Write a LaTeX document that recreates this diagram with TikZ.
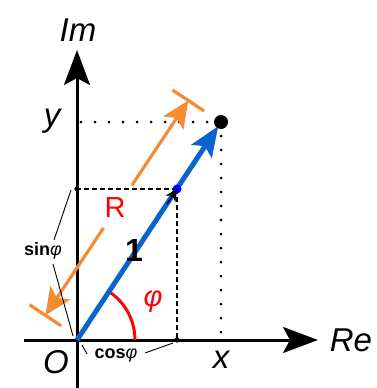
\documentclass[tikz,border=0pt]{standalone}
\usepackage{fontspec}
\setmainfont{Liberation Sans}
\usetikzlibrary{arrows.meta,calc}
\definecolor{vblue}{RGB}{10,100,205}
\definecolor{vorange}{RGB}{245,140,50}
\begin{document}
\begin{tikzpicture}[x=1pt,y=-1pt,
  axis/.style={line width=3pt,-{Stealth[length=35pt,width=26pt,inset=7pt]}},
  bigtxt/.style={font=\fontsize{33}{36}\selectfont\itshape,inner sep=0pt},
  dotline/.style={line width=3pt,line cap=round,dash pattern=on 0pt off 14pt},
  dashline/.style={line width=1.2pt,dash pattern=on 5pt off 3pt},
  thinline/.style={line width=0.9pt},
  smalltxt/.style={font=\fontsize{18}{20}\selectfont,inner sep=0pt},
  ornline/.style={vorange,line width=3.2pt,-{Stealth[length=27pt,width=24pt,inset=6pt]}},
]
\useasboundingbox (0,0) rectangle (376,388);
% key points
\coordinate (o) at (77,340);
\coordinate (p) at (221,122);
\coordinate (u) at (177,189);
\coordinate (ya) at (77,189);
\coordinate (xa) at (177,340);
% axes
\draw[axis] (24,340) -- (318,340) coordinate (reend);
\draw[axis] (77,388) -- (77,50) coordinate (imend);
\node[bigtxt] (im) at (78,30) {Im};
\node[bigtxt] (re) at (351,340) {Re};
\node[bigtxt] (ol) at (56,362) {O};
\node[bigtxt] (xl) at (221,360) {x};
\node[bigtxt] (yl) at (52,121) {y};
% dotted projection lines
\draw[dotline] (p) -- (ya |- p);
\draw[dotline] (p) -- (p |- 0,333);
% dashed projection lines
\draw[dashline] (u) -- (ya);
\draw[dashline] (u) -- (xa);
\fill (ya) circle (2.6pt);
\fill (xa) circle (2.6pt);
% angle arc
\draw[red,line width=3pt] ($(o)+(58,0)$) arc[start angle=0,end angle=-56.4,radius=58];
\node[red,font=\fontsize{29}{32}\selectfont\itshape,inner sep=0pt] (phi) at (153,302) {φ};
% blue vector
\draw[vblue,line width=5pt,-{Stealth[length=30pt,width=24pt,inset=6pt]},shorten >=5pt] (o) -- (p);
\fill (p) circle (7pt);
\fill[blue] (u) circle (4.5pt);
\draw[line width=1.2pt,-{Stealth[length=12pt,width=12pt]}] ($(o)!0.9!(u)$) -- (u);
\node[font=\fontsize{32}{34}\selectfont\bfseries,inner sep=0pt] (one) at (134,250) {1};
% orange dimension line
\coordinate (os) at (45.4,315.3);
\coordinate (oe) at (188.3,100.5);
\draw[ornline] ($(os)!0.407!(oe)$) -- (os);
\draw[ornline] ($(os)!0.605!(oe)$) -- (oe);
\draw[vorange,line width=3.2pt] ($(os)+(-15.8,-10.5)$) -- ($(os)+(15.8,10.5)$);
\draw[vorange,line width=3.2pt] ($(oe)+(-15.8,-10.5)$) -- ($(oe)+(15.8,10.5)$);
\node[red,font=\fontsize{29}{32}\selectfont,inner sep=0pt] (rl) at (115,208) {R};
% sin / cos labels
\node[smalltxt] (sinl) at (43,251) {\bfseries sin{\normalfont\itshape φ}};
\draw[thinline] (54,240) -- (71,190);
\draw[thinline] (53,264) -- (73,336);
\node[smalltxt] (cosl) at (116,356) {\bfseries cos{\normalfont\itshape φ}};
\draw[thinline] (82,345) -- (87,354);
\draw[thinline] (145,353) -- (173,343);
\end{tikzpicture}
\end{document}
